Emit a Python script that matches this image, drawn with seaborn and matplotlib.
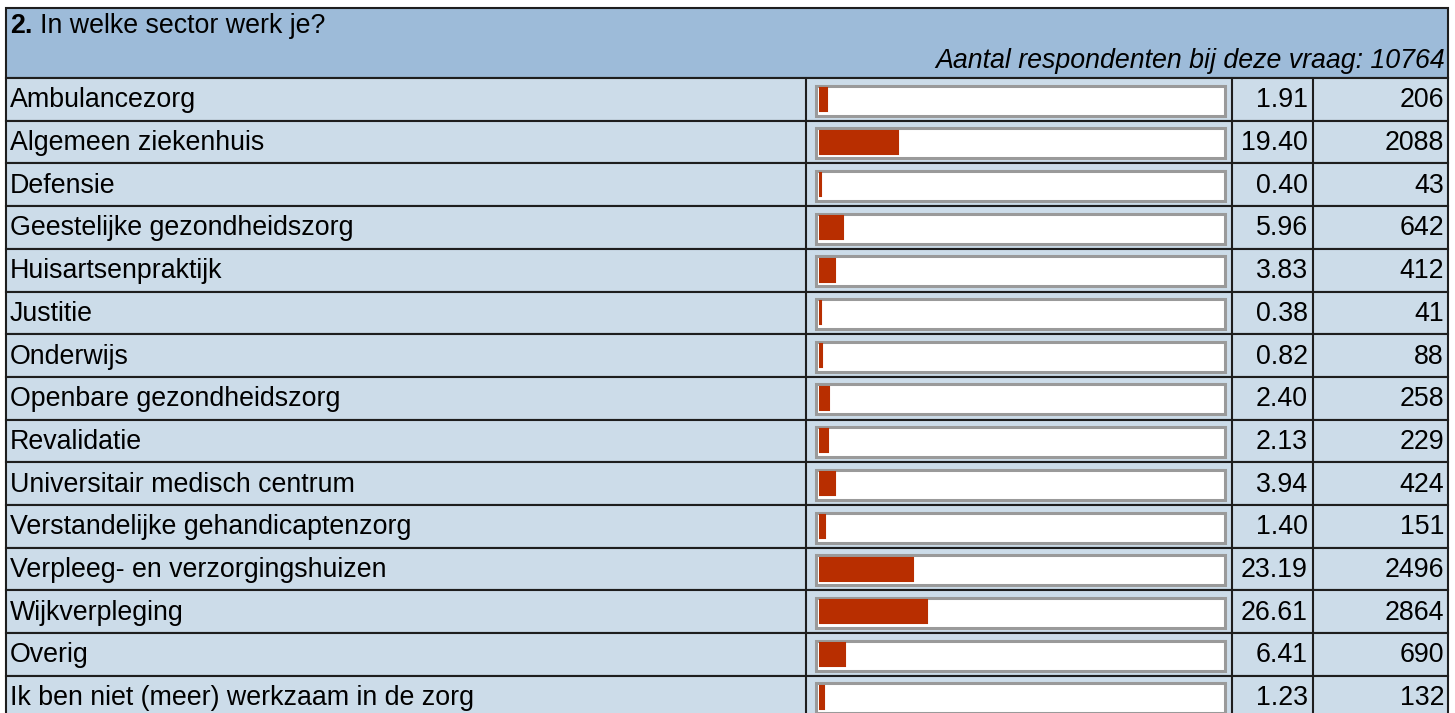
import matplotlib
matplotlib.use("Agg")
import matplotlib.pyplot as plt
import seaborn as sns
from matplotlib.patches import Rectangle

# ---------------- data ----------------
question_nr = "2."
question = "In welke sector werk je?"
n_respondents = 10764
sectors = [
    "Ambulancezorg",
    "Algemeen ziekenhuis",
    "Defensie",
    "Geestelijke gezondheidszorg",
    "Huisartsenpraktijk",
    "Justitie",
    "Onderwijs",
    "Openbare gezondheidszorg",
    "Revalidatie",
    "Universitair medisch centrum",
    "Verstandelijke gehandicaptenzorg",
    "Verpleeg- en verzorgingshuizen",
    "Wijkverpleging",
    "Overig",
    "Ik ben niet (meer) werkzaam in de zorg",
]
percent = [1.91, 19.40, 0.40, 5.96, 3.83, 0.38, 0.82, 2.40, 2.13, 3.94, 1.40, 23.19, 26.61, 6.41, 1.23]
counts = [206, 2088, 43, 642, 412, 41, 88, 258, 229, 424, 151, 2496, 2864, 690, 132]

# ---------------- style ----------------
sns.set_style("white")
plt.rcParams["font.family"] = ["Liberation Sans", "DejaVu Sans"]
plt.rcParams["text.color"] = "black"

HEADER_BG = "#9dbbd9"
ROW_BG = "#ccdce9"
LINE = "#1e1e1e"
BOX_EDGE = "#9a9a9a"
BAR = "#b82e00"

W, H = 1455, 713
left, right, top = 6, 1448, 8
head_bottom = 78
row_h = 42.7
col_bar, col_pct, col_cnt = 806, 1232, 1313
fs = 19.3

fig = plt.figure(figsize=(W / 100, H / 100), dpi=100)
fig.patch.set_facecolor("white")

# background axes in pixel units: the table grid
bg = fig.add_axes([0, 0, 1, 1])
bg.set_xlim(0, W)
bg.set_ylim(H, 0)
bg.axis("off")

bg.add_patch(Rectangle((left, top), right - left, head_bottom - top,
                       facecolor=HEADER_BG, edgecolor=LINE, lw=1.5))
bg.text(left + 4, top + 18, question_nr, fontsize=fs, fontweight="bold", va="center", ha="left")
bg.text(left + 34, top + 18, question, fontsize=fs, va="center", ha="left")
bg.text(right - 3, top + 53, f"Aantal respondenten bij deze vraag: {n_respondents}",
        fontsize=fs, style="italic", va="center", ha="right")

for i, (lab, p, c) in enumerate(zip(sectors, percent, counts)):
    y0 = head_bottom + i * row_h
    bg.add_patch(Rectangle((left, y0), right - left, row_h, facecolor=ROW_BG, edgecolor=LINE, lw=1.5))
    for xv in (col_bar, col_pct, col_cnt):
        bg.plot([xv, xv], [y0, y0 + row_h], color=LINE, lw=1.5)
    # white box behind the bar
    bg.add_patch(Rectangle((815.5, y0 + 7.5), 409, 30, facecolor="white", edgecolor=BOX_EDGE, lw=2.2))
    ym = y0 + row_h / 2 + 1
    bg.text(left + 4, ym, lab, fontsize=fs, va="center", ha="left")
    bg.text(col_cnt - 5, ym, f"{p:.2f}", fontsize=fs, va="center", ha="right")
    bg.text(right - 4, ym, f"{c}", fontsize=fs, va="center", ha="right")

# bar axes: 0-100 % over the box width, one category per row
rows_visible = (H - head_bottom) / row_h
ax = fig.add_axes([819 / W, 0, (1225 - 819) / W, (H - head_bottom) / H])
ax.patch.set_alpha(0)
sns.barplot(x=percent, y=sectors, orient="h", color=BAR, saturation=1,
            width=23 / row_h, edgecolor=BAR, linewidth=1.5, ax=ax)
ax.set_xlim(0, 100)
ax.set_ylim(rows_visible - 0.5, -0.5)
ax.axis("off")

fig.savefig("out.png", dpi=100)
